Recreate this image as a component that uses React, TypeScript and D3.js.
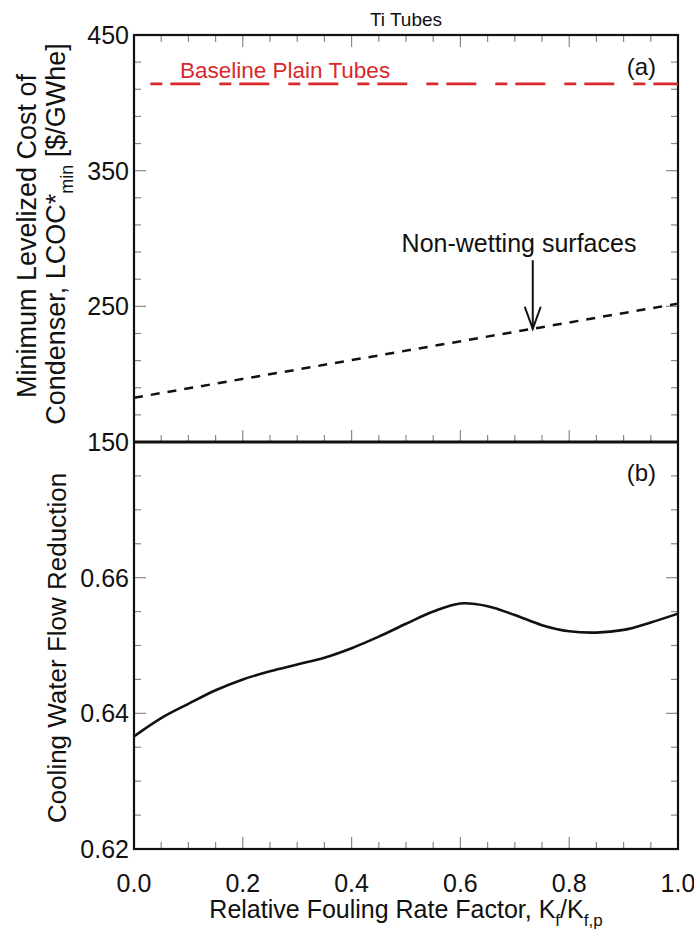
import React from "react";
import * as d3 from "d3";

// ---- data ----
const lcocX = [0, 1];
const lcocNonWetting = [182.6, 252];
const baselineX = [0.03, 1];
const baselineLcoc = [414, 414];
const flowX = [0, 0.05, 0.1, 0.15, 0.2, 0.25, 0.3, 0.35, 0.4, 0.45, 0.5, 0.55, 0.6, 0.65, 0.7, 0.75, 0.8, 0.85, 0.9, 0.95, 1.0];
const flowReduction = [0.6366, 0.6393, 0.6414, 0.6434, 0.645, 0.6462, 0.6472, 0.6482, 0.6496, 0.6513, 0.6532, 0.655, 0.6562, 0.6558, 0.6545, 0.653, 0.6521, 0.6519, 0.6523, 0.6534, 0.6547];
const xTicks = [0, 0.2, 0.4, 0.6, 0.8, 1.0];
const topYTicks = [150, 250, 350, 450];
const botYTicks = [0.62, 0.64, 0.66];
const arrowX = 0.733;
const arrowTop = 284;

const W = 694, H = 929;
const L = 134, R = 678;
const T1 = 35, B1 = 442, T2 = 442, B2 = 849;
const FONT = "'Liberation Sans', Arial, Helvetica, sans-serif";

export default function App() {
  const x = d3.scaleLinear().domain([0, 1]).range([L, R]);
  const y1 = d3.scaleLinear().domain([150, 450]).range([B1, T1]);
  const y2 = d3.scaleLinear().domain([0.62, 0.68]).range([B2, T2]);

  const xMinor = d3.range(0, 1.0001, 0.05);
  const y1Minor = d3.range(150, 450.001, 20);
  const y2Minor = d3.range(0.62, 0.68001, 0.005);
  const isMajorX = (v: number) => xTicks.some((t) => Math.abs(t - v) < 1e-6);

  const lineTop = d3.line<number>().x((_, i) => x(lcocX[i])).y((d) => y1(d));
  const lineBase = d3.line<number>().x((_, i) => x(baselineX[i])).y((d) => y1(d));
  const lineFlow = d3
    .line<number>()
    .x((_, i) => x(flowX[i]))
    .y((d) => y2(d))
    .curve(d3.curveCatmullRom.alpha(0.5));

  const tickColor = "#888";
  const ax = x(arrowX);
  const aTip = y1(lcocNonWetting[0] + (lcocNonWetting[1] - lcocNonWetting[0]) * arrowX);
  const aTop = y1(arrowTop);

  const xTickEls = (yEdge: number, dir: number, key: string) =>
    xMinor.map((v, i) => {
      const len = isMajorX(v) ? 12 : 7;
      return (
        <line key={key + i} x1={x(v)} x2={x(v)} y1={yEdge} y2={yEdge + dir * len} stroke={tickColor} strokeWidth={1.2} />
      );
    });

  return (
    <svg width={W} height={H} style={{ position: "absolute", left: 0, top: 0, background: "#fff" }} fontFamily={FONT}>
      <rect x={0} y={0} width={W} height={H} fill="#fff" />
      {xTickEls(T1, 1, "t1")}
      {xTickEls(B1, -1, "b1")}
      {xTickEls(B2, -1, "b2")}
      {y1Minor.map((v, i) => {
        const major = topYTicks.some((t) => Math.abs(t - v) < 1e-6);
        const len = major ? 12 : 7;
        return (
          <g key={"y1" + i}>
            <line x1={L} x2={L + len} y1={y1(v)} y2={y1(v)} stroke={tickColor} strokeWidth={1.2} />
            <line x1={R} x2={R - len} y1={y1(v)} y2={y1(v)} stroke={tickColor} strokeWidth={1.2} />
          </g>
        );
      })}
      {y2Minor.map((v, i) => {
        const major = botYTicks.some((t) => Math.abs(t - v) < 1e-6) || Math.abs(v - 0.68) < 1e-6;
        const len = major ? 12 : 7;
        return (
          <g key={"y2" + i}>
            <line x1={L} x2={L + len} y1={y2(v)} y2={y2(v)} stroke={tickColor} strokeWidth={1.2} />
            <line x1={R} x2={R - len} y1={y2(v)} y2={y2(v)} stroke={tickColor} strokeWidth={1.2} />
          </g>
        );
      })}

      <rect x={L} y={T1} width={R - L} height={B2 - T1} fill="none" stroke="#111" strokeWidth={2.2} />
      <line x1={L} x2={R} y1={B1} y2={B1} stroke="#111" strokeWidth={3} />

      <path d={lineBase(baselineLcoc) || ""} fill="none" stroke="#d9282c" strokeWidth={2.6} strokeDasharray="12 8 30 19" />
      <path d={lineTop(lcocNonWetting) || ""} fill="none" stroke="#111" strokeWidth={2.5} strokeDasharray="9 8" />
      <path d={lineFlow(flowReduction) || ""} fill="none" stroke="#111" strokeWidth={2.6} />

      <line x1={ax} x2={ax} y1={aTop} y2={aTip} stroke="#111" strokeWidth={2} />
      <path d={`M${ax - 8},${aTip - 22} L${ax},${aTip} L${ax + 8},${aTip - 22}`} fill="none" stroke="#111" strokeWidth={2} />
      <text x={519} y={252} fontSize={25} textAnchor="middle" fill="#111">Non-wetting surfaces</text>

      <text x={(L + R) / 2} y={26} fontSize={19} textAnchor="middle" fill="#111">Ti Tubes</text>
      <text x={180} y={78} fontSize={22.5} fill="#d9282c">Baseline Plain Tubes</text>
      <text x={656} y={75} fontSize={24} textAnchor="end" fill="#111">(a)</text>
      <text x={656} y={481} fontSize={24} textAnchor="end" fill="#111">(b)</text>

      {topYTicks.map((v) => (
        <text key={"yl1" + v} x={129} y={y1(v)} dy="0.36em" fontSize={25} textAnchor="end" fill="#111">{v}</text>
      ))}
      {botYTicks.map((v) => (
        <text key={"yl2" + v} x={129} y={y2(v)} dy="0.36em" fontSize={25} textAnchor="end" fill="#111">{v.toFixed(2)}</text>
      ))}
      {xTicks.map((v) => (
        <text key={"xl" + v} x={x(v)} y={892} fontSize={25} textAnchor="middle" fill="#111">{v.toFixed(1)}</text>
      ))}

      <text x={(L + R) / 2} y={918} fontSize={25} textAnchor="middle" fill="#111">
        Relative Fouling Rate Factor, K<tspan fontSize={17} dy={8}>f</tspan><tspan dy={-8}>/K</tspan><tspan fontSize={17} dy={8}>f,p</tspan>
      </text>

      <g transform={`translate(36, ${236}) rotate(-90)`}>
        <text x={0} y={0} fontSize={27} textAnchor="middle" fill="#111">Minimum Levelized Cost of</text>
      </g>
      <g transform={`translate(65, ${234}) rotate(-90)`}>
        <text x={0} y={0} fontSize={27} textAnchor="middle" fill="#111">
          Condenser, LCOC*<tspan fontSize={18} dy={8}>min</tspan><tspan dy={-8}> [$/GWhe]</tspan>
        </text>
      </g>
      <g transform={`translate(66, ${648}) rotate(-90)`}>
        <text x={0} y={0} fontSize={26} textAnchor="middle" fill="#111">Cooling Water Flow Reduction</text>
      </g>
    </svg>
  );
}
